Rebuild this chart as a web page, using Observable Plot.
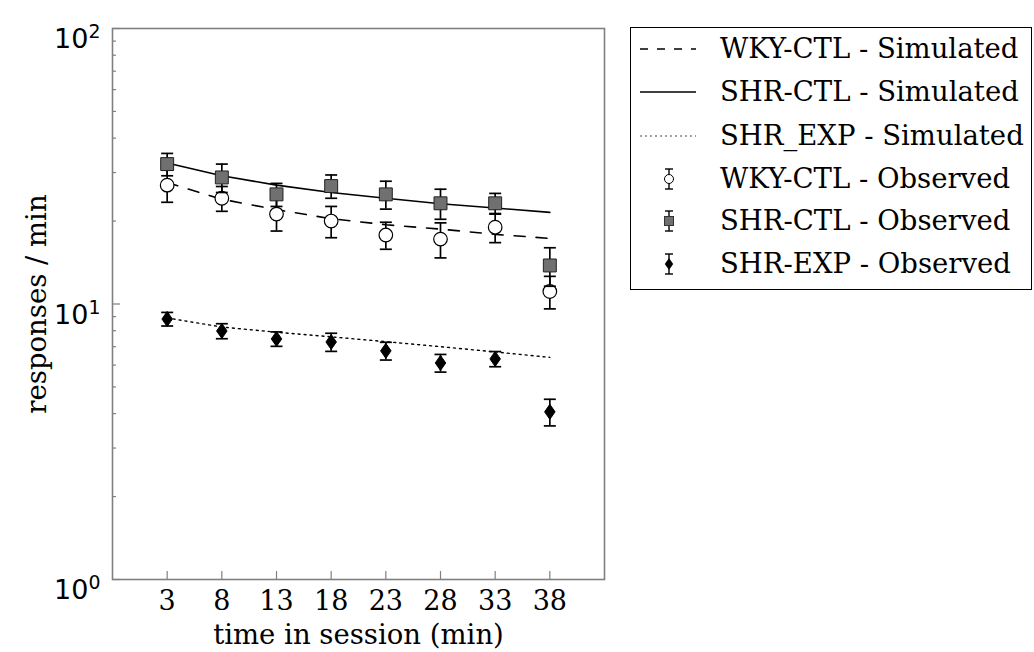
<!DOCTYPE html>
<html><head><meta charset="utf-8">
<script src="https://cdn.jsdelivr.net/npm/d3@7"></script>
<script src="https://cdn.jsdelivr.net/npm/@observablehq/plot@0.6"></script>
<style>
body{margin:0;background:#fff;}
#wrap{position:relative;width:1034px;height:652px;overflow:hidden;}
#legend{position:absolute;left:630px;top:27px;width:402px;height:263px;border:1.5px solid #000;box-sizing:border-box;font-family:"DejaVu Serif";font-size:27.5px;color:#000;background:#fff;}
.row{position:absolute;left:0;height:40px;width:400px;}
.row svg{position:absolute;left:0;top:0;}
.row span{position:absolute;left:89px;top:50%;transform:translateY(-50%);white-space:nowrap;line-height:1;}
</style></head><body><div id="wrap"><div id="chart"></div><div id="legend"></div></div>
<script>
// ---- data ----
const times = [3, 8, 13, 18, 23, 28, 33, 38];
const xTicks = [3, 8, 13, 18, 23, 28, 33, 38];
const yMajor = [1, 10, 100];
const yMinor = [2, 3, 4, 5, 6, 7, 8, 9, 20, 30, 40, 50, 60, 70, 80, 90];
const xLabel = "time in session (min)";
const yLabel = "responses / min";

const wkySim = [27.6, 24.0, 22.0, 20.4, 19.4, 18.7, 17.9, 17.3];
const shrSim = [32.5, 29.2, 27.0, 25.4, 24.2, 23.1, 22.3, 21.5];
const expSim = [8.9, 8.25, 7.9, 7.6, 7.3, 7.0, 6.7, 6.4];

const wkyObs = [27.0, 24.2, 21.2, 20.0, 17.8, 17.2, 19.0, 11.1];
const wkyErr = [3.6, 2.5, 2.8, 2.6, 2.0, 2.5, 2.3, 1.5];
const shrObs = [32.2, 28.8, 25.0, 26.8, 25.0, 23.2, 23.2, 13.8];
const shrErr = [3.0, 3.4, 2.4, 2.6, 2.9, 2.9, 2.0, 2.2];
const expObs = [8.82, 7.98, 7.47, 7.28, 6.76, 6.11, 6.32, 4.06];
const expErr = [0.5, 0.5, 0.45, 0.55, 0.5, 0.45, 0.4, 0.45];

const legendItems = [
  {label: "WKY-CTL - Simulated", kind: "dash"},
  {label: "SHR-CTL - Simulated", kind: "solid"},
  {label: "SHR_EXP - Simulated", kind: "dot"},
  {label: "WKY-CTL - Observed", kind: "circle"},
  {label: "SHR-CTL - Observed", kind: "square"},
  {label: "SHR-EXP - Observed", kind: "diamond"}
];

// ---- tables ----
const sim = times.map((t, i) => ({t, wky: wkySim[i], shr: shrSim[i], exp: expSim[i]}));
const obs = times.map((t, i) => ({t,
  wky: wkyObs[i], wkyE: wkyErr[i],
  shr: shrObs[i], shrE: shrErr[i],
  exp: expObs[i], expE: expErr[i]}));

const capSymbol = {draw(ctx, size) { const r = Math.sqrt(size / Math.PI); ctx.moveTo(-r, 0); ctx.lineTo(r, 0); }};
const diamondSymbol = {draw(ctx, size) { const r = Math.sqrt(size / Math.PI); ctx.moveTo(0, -r); ctx.lineTo(r * 0.7, 0); ctx.lineTo(0, r); ctx.lineTo(-r * 0.7, 0); ctx.closePath(); }};

const W = 620, H = 652, mL = 112, mT = 28, mR = 16, mB = 73;
const pw = W - mL - mR, ph = H - mT - mB;
const frameColor = "#808080";

function errMarks(key, ekey) {
  return [
    Plot.ruleX(obs, {x: "t", y1: d => d[key] - d[ekey], y2: d => d[key] + d[ekey], stroke: "#000", strokeWidth: 1.7}),
    Plot.dot(obs, {x: "t", y: d => d[key] + d[ekey], symbol: capSymbol, r: 6, stroke: "#000", strokeWidth: 1.7}),
    Plot.dot(obs, {x: "t", y: d => d[key] - d[ekey], symbol: capSymbol, r: 6, stroke: "#000", strokeWidth: 1.7})
  ];
}

const chart = Plot.plot({
  width: W, height: H,
  marginLeft: mL, marginTop: mT, marginRight: mR, marginBottom: mB,
  x: {domain: [-2, 43]},
  y: {type: "log", domain: [1, 100]},
  style: {fontFamily: "DejaVu Serif", fontSize: "27px", color: "#000", background: "#fff", overflow: "visible"},
  marks: [
    Plot.ruleY(yMinor, {y: d => d, insetRight: pw - 4, stroke: frameColor, strokeWidth: 1.2}),
    Plot.ruleY(yMajor, {y: d => d, insetRight: pw - 8, stroke: frameColor, strokeWidth: 1.2}),
    Plot.ruleX(xTicks, {x: d => d, insetTop: ph - 8, stroke: frameColor, strokeWidth: 1.2}),
    Plot.axisX(xTicks, {tickSize: 0, tickPadding: 11, fontSize: 27, fontFamily: "DejaVu Serif", label: null}),
    Plot.axisX(xTicks, {tickSize: 0, tickFormat: () => "", fontSize: 27.5, fontFamily: "DejaVu Serif",
      label: xLabel, labelAnchor: "center", labelArrow: "none", labelOffset: 64}),
    Plot.axisY(yMajor, {tickSize: 0, tickPadding: 12, fontSize: 27, fontFamily: "DejaVu Sans", label: null,
      tickFormat: d => "10^" + Math.round(Math.log10(d))}),
    Plot.axisY(yMajor, {tickSize: 0, tickFormat: () => "", fontSize: 27.5, fontFamily: "DejaVu Serif",
      label: yLabel, labelAnchor: "center", labelArrow: "none", labelOffset: 86}),
    Plot.line(sim, {x: "t", y: "wky", stroke: "#000", strokeWidth: 1.6, strokeDasharray: "11,11"}),
    Plot.line(sim, {x: "t", y: "shr", stroke: "#000", strokeWidth: 1.6}),
    Plot.line(sim, {x: "t", y: "exp", stroke: "#000", strokeWidth: 1.4, strokeDasharray: "2,4"}),
    ...errMarks("wky", "wkyE"),
    Plot.dot(obs, {x: "t", y: "wky", r: 6.8, fill: "#fff", stroke: "#000", strokeWidth: 1.2}),
    ...errMarks("shr", "shrE"),
    Plot.dot(obs, {x: "t", y: "shr", symbol: "square", r: 7.3, fill: "#707070", stroke: "#222", strokeWidth: 1}),
    ...errMarks("exp", "expE"),
    Plot.dot(obs, {x: "t", y: "exp", symbol: diamondSymbol, r: 7.5, fill: "#000", stroke: "#000", strokeWidth: 1}),
    Plot.frame({stroke: frameColor, strokeWidth: 1.6})
  ]
});
document.getElementById("chart").appendChild(chart);

// superscript exponents on the y tick labels
d3.select(chart).selectAll("text").each(function() {
  const t = d3.select(this);
  const s = t.text();
  const m = /^10\^(\d)$/.exec(s);
  if (!m) return;
  t.text("10");
  t.attr("dy", "0.42em");
  t.append("tspan").attr("dy", "-0.55em").attr("font-size", "0.7em").text(m[1]);
});

// ---- legend ----
const rowCenters = [21, 64, 108, 151, 193, 236];
const legend = d3.select("#legend");
legendItems.forEach((item, i) => {
  const row = legend.append("div").attr("class", "row").style("top", (rowCenters[i] - 20) + "px");
  const svg = row.append("svg").attr("width", 85).attr("height", 40);
  const cy = 20, cx = 38;
  if (item.kind === "dash" || item.kind === "solid" || item.kind === "dot") {
    const ln = svg.append("line").attr("x1", 9).attr("x2", 65).attr("y1", cy).attr("y2", cy)
      .attr("stroke", "#000").attr("stroke-width", item.kind === "dot" ? 1.2 : 1.6);
    if (item.kind === "dash") ln.attr("stroke-dasharray", "8,9");
    if (item.kind === "dot") ln.attr("stroke-dasharray", "2,3").attr("stroke", "#444");
  } else {
    svg.append("line").attr("x1", cx).attr("x2", cx).attr("y1", cy - 10).attr("y2", cy + 10).attr("stroke", "#000").attr("stroke-width", 1.4);
    svg.append("line").attr("x1", cx - 4).attr("x2", cx + 4).attr("y1", cy - 10).attr("y2", cy - 10).attr("stroke", "#000").attr("stroke-width", 1.4);
    svg.append("line").attr("x1", cx - 4).attr("x2", cx + 4).attr("y1", cy + 10).attr("y2", cy + 10).attr("stroke", "#000").attr("stroke-width", 1.4);
    if (item.kind === "circle") svg.append("circle").attr("cx", cx).attr("cy", cy).attr("r", 4.5).attr("fill", "#fff").attr("stroke", "#000");
    if (item.kind === "square") svg.append("rect").attr("x", cx - 4.5).attr("y", cy - 4.5).attr("width", 9).attr("height", 9).attr("fill", "#707070").attr("stroke", "#333");
    if (item.kind === "diamond") svg.append("path").attr("d", `M${cx},${cy - 6}L${cx + 4.2},${cy}L${cx},${cy + 6}L${cx - 4.2},${cy}Z`).attr("fill", "#000");
  }
  row.append("span").text(item.label);
});
</script>
</body></html>
